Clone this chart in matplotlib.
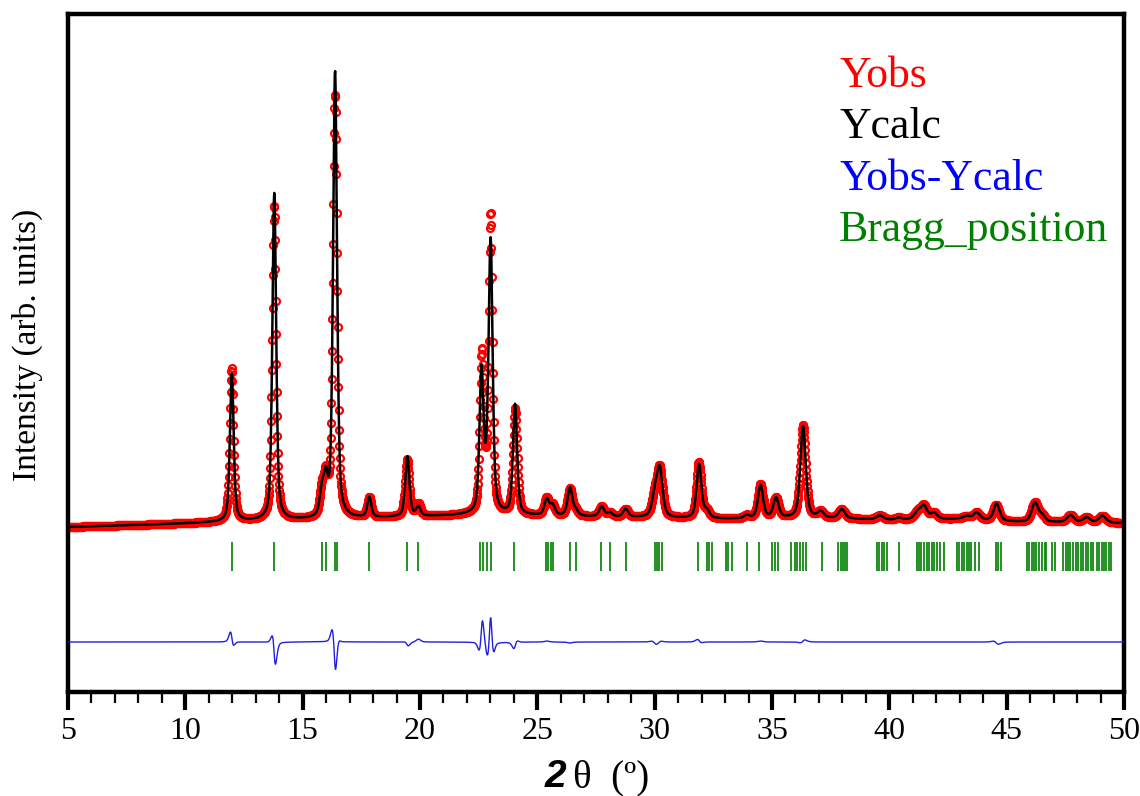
import numpy as np
import matplotlib
matplotlib.use('Agg')
import matplotlib.pyplot as plt
from matplotlib.ticker import MultipleLocator

# Peak table (2theta, heights in arb. counts, widths)
peak_pos = [11.98, 13.79, 15.82, 15.99, 16.38, 17.84, 19.46, 19.93, 22.62, 22.84,
            23.01, 24.05, 25.40, 25.65, 26.39, 26.64, 27.74, 28.09, 28.76, 30.02,
            30.22, 31.89, 32.22, 33.92, 34.51, 35.17, 36.32, 37.07, 37.97, 39.60,
            40.40, 41.20, 41.47, 41.90, 43.30, 43.72, 44.57, 46.20, 46.50, 47.72,
            48.40, 49.08]
calc_height = [1480, 3270, 250, 330, 4470, 200, 600, 90, 1400, 200,
               2700, 1100, 160, 100, 280, 50, 100, 40, 80, 220,
               450, 540, 70, 30, 330, 200, 920, 60, 90, 40,
               20, 70, 130, 60, 30, 70, 170, 190, 60, 70,
               50, 70]
obs_height = [1530, 3150, 250, 330, 4230, 200, 570, 120, 1570, 150,
              2950, 1060, 170, 100, 270, 50, 100, 40, 80, 200,
              470, 555, 70, 30, 340, 200, 930, 60, 90, 40,
              20, 70, 130, 60, 30, 70, 160, 190, 60, 70,
              50, 70]
calc_fwhm = [0.19, 0.19, 0.22, 0.20, 0.20, 0.20, 0.21, 0.22, 0.20, 0.20,
             0.20, 0.21, 0.24, 0.24, 0.24, 0.24, 0.25, 0.25, 0.25, 0.30,
             0.28, 0.24, 0.26, 0.26, 0.26, 0.27, 0.27, 0.28, 0.32, 0.35,
             0.30, 0.32, 0.32, 0.32, 0.35, 0.32, 0.30, 0.32, 0.32, 0.35,
             0.35, 0.35]
obs_fwhm = [0.19, 0.19, 0.22, 0.20, 0.21, 0.20, 0.21, 0.22, 0.19, 0.20,
            0.18, 0.21, 0.24, 0.24, 0.24, 0.24, 0.25, 0.25, 0.25, 0.30,
            0.28, 0.24, 0.26, 0.26, 0.26, 0.27, 0.27, 0.28, 0.32, 0.35,
            0.30, 0.32, 0.32, 0.32, 0.35, 0.32, 0.30, 0.32, 0.32, 0.35,
            0.35, 0.35]
obs_shift = [-0.006, -0.006, 0, 0, -0.004, 0, -0.004, 0, 0.012, 0,
             0, 0.005, 0, 0, 0, 0, 0, 0, 0, -0.02,
             0, -0.005, 0, 0, 0, 0, 0.003, 0, 0, 0,
             0, 0, 0, 0, 0, 0, -0.02, 0, 0, 0,
             0, 0]

# background points
bg_2theta = [5, 8, 10.5, 13, 15, 18, 21, 22.3, 25, 28, 33, 37, 40, 43, 45.5, 50]
bg_level = [-20, 0, 20, 40, 50, 70, 90, 100, 90, 80, 60, 70, 50, 60, 30, 20]

# Bragg reflections
bragg = [11.97, 13.79, 15.81, 15.99, 16.38, 16.48, 17.84, 19.46, 19.93,
         22.55, 22.67, 22.84, 23.01, 24.00, 25.37, 25.47, 25.57, 25.68,
         26.39, 26.64, 27.71, 28.09, 28.78, 30.01, 30.11, 30.19, 30.30,
         31.86, 32.21, 32.33, 32.43, 33.04, 33.14, 33.28, 33.92, 34.46,
         35.02, 35.12, 35.26, 35.83, 35.98, 36.07, 36.19, 36.30, 36.44,
         37.11, 37.82, 37.92, 38.01, 38.11, 38.20, 39.46, 39.57, 39.67,
         39.77, 39.88, 40.42, 41.16, 41.27, 41.37, 41.47, 41.59, 41.70,
         41.80, 41.90, 42.04, 42.15, 42.32, 42.89, 42.98, 43.08, 43.17,
         43.29, 43.40, 43.50, 43.64, 43.83, 44.54, 44.64, 44.74, 45.85,
         45.96, 46.06, 46.15, 46.27, 46.38, 46.49, 46.62, 46.69, 46.95,
         47.05, 47.41, 47.52, 47.62, 47.72, 47.83, 47.95, 48.05, 48.15,
         48.26, 48.38, 48.48, 48.58, 48.69, 48.84, 48.95, 49.05, 49.15,
         49.24, 49.34, 49.44]

diff_offset = -1170
bragg_top, bragg_bottom = -170, -460


def pv(x, x0, h, w, eta=0.5):
    g = np.exp(-4 * np.log(2) * ((x - x0) / w) ** 2)
    l = 1 / (1 + 4 * ((x - x0) / w) ** 2)
    return h * (eta * l + (1 - eta) * g)


tt = np.arange(5, 50.0001, 0.015)
bg = np.interp(tt, bg_2theta, bg_level)
ycalc = bg.copy()
yobs = bg.copy()
for p, hc, ho, wc, wo, s in zip(peak_pos, calc_height, obs_height,
                                calc_fwhm, obs_fwhm, obs_shift):
    ycalc += pv(tt, p, hc, wc)
    yobs += pv(tt, p + s, ho, wo)
ydiff = yobs - ycalc + diff_offset

plt.rcParams['font.family'] = ['Liberation Serif', 'DejaVu Serif']

fig = plt.figure(figsize=(11.4, 7.96), dpi=100)
ax = fig.add_axes([68 / 1140, 1 - 692 / 796, (1124 - 68) / 1140, (692 - 14) / 796])

ax.plot(tt, yobs, 'o', mfc='none', mec='#ff0000', ms=5, mew=1.6, zorder=2)
ax.plot(tt, ycalc, color='black', lw=1.8, zorder=3)
ax.plot(tt, ydiff, color='#1f1fe0', lw=1.0, zorder=3)
ax.vlines(bragg, bragg_bottom, bragg_top, color='#118811', lw=1.3, zorder=3)

ax.set_xlim(5, 50)
ax.set_ylim(-1670, 5110)
ax.set_xticks(range(5, 51, 5))
ax.xaxis.set_minor_locator(MultipleLocator(1))
ax.set_yticks([])
ax.tick_params(axis='x', which='major', direction='out', length=13, width=3,
               labelsize=23, pad=5)
ax.tick_params(axis='x', which='minor', direction='out', length=8, width=1.6)
for sp in ax.spines.values():
    sp.set_linewidth(3.2)

# legend as coloured text
leg = [('Yobs', '#ff0000'), ('Ycalc', 'black'), ('Yobs-Ycalc', '#0000ff'),
       ('Bragg_position', '#008000')]
for i, (txt, c) in enumerate(leg):
    fig.text(839 / 1140, 1 - (87 + i * 51.5) / 796, txt, color=c, fontsize=31.5,
             va='baseline', ha='left')

fig.text(27 / 1140, 1 - 345 / 796, 'Intensity (arb. units)', rotation=90,
         fontsize=24, va='center', ha='center')
fig.text(566 / 1140, 1 - 787 / 796, '2', family='Liberation Sans',
         fontweight='bold', fontstyle='italic', fontsize=28, ha='right', va='baseline')
fig.text(573 / 1140, 1 - 787 / 796, 'θ  (º)', fontsize=28, ha='left', va='baseline')

fig.savefig('out.png', dpi=100)
